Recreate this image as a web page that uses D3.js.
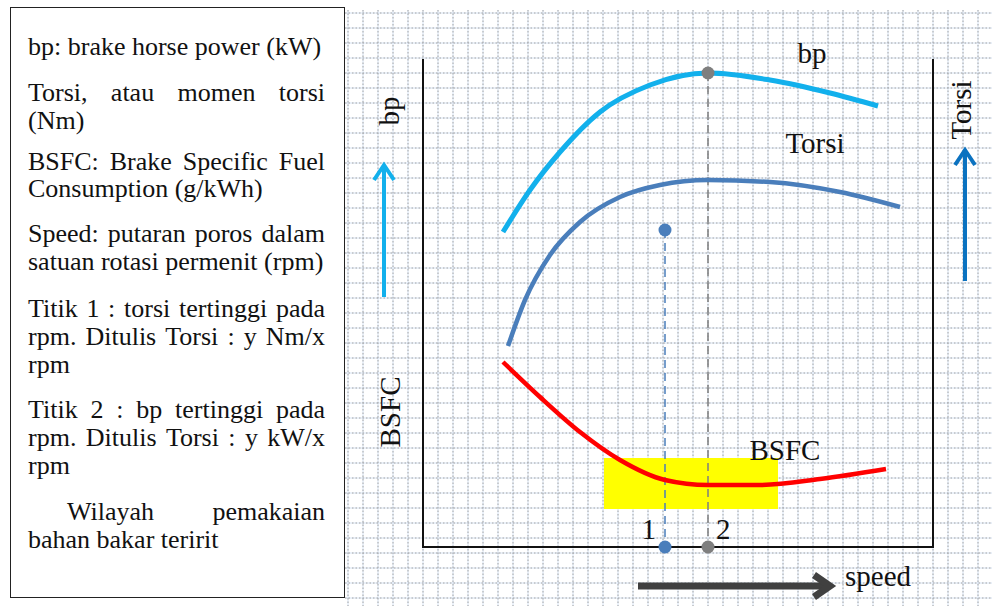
<!DOCTYPE html>
<html>
<head>
<meta charset="utf-8">
<script src="https://cdn.jsdelivr.net/npm/d3@7"></script>
<style>
  html, body { margin: 0; padding: 0; background: #fff; }
  svg { display: block; }
  #chart text { font-family: "Liberation Serif", serif; }
</style>
</head>
<body>
<svg id="chart" width="992" height="606"></svg>
<script>
// ---------------- data (schematic, arbitrary units) ----------------
const bpSpeed     = [80, 107, 137, 177, 227, 285, 347, 407, 455];
const bpValue     = [315, 357, 395, 435, 462, 474, 467, 454, 441];

const torsiSpeed  = [85, 102, 127, 157, 197, 237, 285, 347, 417, 477];
const torsiValue  = [201, 247, 292, 325, 350, 362, 367, 365, 355, 340];

const bsfcSpeed   = [80, 117, 157, 197, 242, 285, 337, 397, 463];
const bsfcValue   = [185, 150, 115, 87, 67, 62, 62, 68, 78];

const point1 = { speed: 242, top: 317, label: "1" };   // torsi tertinggi
const point2 = { speed: 285, top: 474, label: "2" };   // bp tertinggi

const economyZone = { speedFrom: 181, speedTo: 355, valueFrom: 38, valueTo: 89 };

const curveLabels = [
  { text: "bp",    speed: 389, value: 484 },
  { text: "Torsi", speed: 392, value: 394 },
  { text: "BSFC",  speed: 362, value: 87 }
];

const legendParagraphs = [
  { lines: ["bp: brake horse power (kW)"] },
  { lines: ["Torsi, atau momen torsi", "(Nm)"] },
  { lines: ["BSFC: Brake Specific Fuel", "Consumption (g/kWh)"] },
  { lines: ["Speed: putaran poros dalam", "satuan rotasi permenit (rpm)"] },
  { lines: ["Titik 1 : torsi tertinggi pada", "rpm. Ditulis Torsi : y Nm/x", "rpm"] },
  { lines: ["Titik 2 : bp tertinggi pada", "rpm. Ditulis Torsi : y kW/x", "rpm"] },
  { lines: ["Wilayah pemakaian", "bahan bakar teririt"], indent: 39 }
];

// ---------------- layout ----------------
const W = 992, H = 606;
const svg = d3.select("#chart");

const plot = { left: 423, right: 933, top: 59, bottom: 547 };
const x = d3.scaleLinear().domain([0, 510]).range([plot.left, plot.right]);
const y = d3.scaleLinear().domain([0, 488]).range([plot.bottom, plot.top]);

function T(sel) { return sel.append("text").attr("fill", "#111"); }

// ---------------- graph-paper background ----------------
const grid = svg.append("g");
const gx0 = 345, gy0 = 10, step = 15;
const vx = d3.range(348, W, step);
const hy = d3.range(13, H, step);
grid.selectAll("line.v").data(vx).join("line")
  .attr("x1", d => d).attr("x2", d => d).attr("y1", gy0).attr("y2", H)
  .attr("stroke", "#d6e2f2").attr("stroke-width", 1);
grid.selectAll("line.h").data(hy).join("line")
  .attr("x1", gx0).attr("x2", W).attr("y1", d => d).attr("y2", d => d)
  .attr("stroke", "#d6e2f2").attr("stroke-width", 1);
grid.selectAll("line.vd").data(vx).join("line")
  .attr("x1", d => d).attr("x2", d => d).attr("y1", gy0).attr("y2", H)
  .attr("stroke", "#a6a6a6").attr("stroke-width", 1).attr("stroke-dasharray", "1.5,2");
grid.selectAll("line.hd").data(hy).join("line")
  .attr("x1", gx0).attr("x2", W).attr("y1", d => d).attr("y2", d => d)
  .attr("stroke", "#a6a6a6").attr("stroke-width", 1).attr("stroke-dasharray", "1.5,2");

// ---------------- legend box ----------------
const box = { x: 10, y: 7, w: 334, h: 590 };
svg.append("rect").attr("x", box.x + 0.5).attr("y", box.y + 0.5)
  .attr("width", box.w).attr("height", box.h)
  .attr("fill", "#fff").attr("stroke", "#222").attr("stroke-width", 1);

const legendFont = 26;
const textLeft = 28, textRight = 325;
const baselines = [55, 101, 129, 170, 197, 242, 270, 317, 345, 373, 418, 446, 474, 520, 548];
const legend = svg.append("g");

const measurer = T(legend).attr("font-size", legendFont).attr("opacity", 0);
function wordWidth(w) { measurer.text(w); return measurer.node().getComputedTextLength(); }

let li = 0;
legendParagraphs.forEach(p => {
  p.lines.forEach((line, i) => {
    const isLast = i === p.lines.length - 1;
    const startX = textLeft + (i === 0 && p.indent ? p.indent : 0);
    const by = baselines[li++];
    const t = T(legend).attr("y", by).attr("font-size", legendFont);
    if (isLast) {
      t.attr("x", startX).text(line);
    } else {
      const words = line.split(" ");
      const widths = words.map(wordWidth);
      const total = d3.sum(widths);
      const gap = (textRight - startX - total) / (words.length - 1);
      let cx = startX;
      words.forEach((w, j) => {
        t.append("tspan").attr("x", cx).text(w);
        cx += widths[j] + gap;
      });
    }
  });
});
measurer.remove();

// ---------------- economy zone ----------------
svg.append("rect")
  .attr("x", x(economyZone.speedFrom)).attr("y", y(economyZone.valueTo))
  .attr("width", x(economyZone.speedTo) - x(economyZone.speedFrom))
  .attr("height", y(economyZone.valueFrom) - y(economyZone.valueTo))
  .attr("fill", "#ffff00");

// ---------------- axes frame ----------------
const frame = svg.append("g").attr("stroke", "#111").attr("stroke-width", 2).attr("fill", "none");
frame.append("path").attr("d",
  `M${plot.left},${plot.top}V${plot.bottom}H${plot.right}V${plot.top}`);

// ---------------- guide lines ----------------
svg.append("line")
  .attr("x1", x(point1.speed)).attr("x2", x(point1.speed))
  .attr("y1", y(point1.top)).attr("y2", plot.bottom)
  .attr("stroke", "#4a7ebb").attr("stroke-width", 1.5).attr("stroke-dasharray", "8,5");
svg.append("line")
  .attr("x1", x(point2.speed)).attr("x2", x(point2.speed))
  .attr("y1", y(point2.top)).attr("y2", plot.bottom)
  .attr("stroke", "#7f7f7f").attr("stroke-width", 1.5).attr("stroke-dasharray", "8,5");

// ---------------- curves ----------------
const line = d3.line().x(d => x(d[0])).y(d => y(d[1])).curve(d3.curveMonotoneX);
function drawCurve(sp, val, color, width) {
  svg.append("path").datum(d3.zip(sp, val))
    .attr("d", line).attr("fill", "none")
    .attr("stroke", color).attr("stroke-width", width);
}
drawCurve(bpSpeed, bpValue, "#12b0ec", 5);
drawCurve(torsiSpeed, torsiValue, "#4a7ebb", 4.5);
drawCurve(bsfcSpeed, bsfcValue, "#ff0000", 4.5);

// ---------------- points ----------------
const dots = [
  { s: point1.speed, v: point1.top, c: "#4a7ebb" },
  { s: point1.speed, v: 0, c: "#4a7ebb" },
  { s: point2.speed, v: point2.top, c: "#7f7f7f" },
  { s: point2.speed, v: 0, c: "#7f7f7f" }
];
svg.selectAll("circle.pt").data(dots).join("circle")
  .attr("cx", d => x(d.s)).attr("cy", d => y(d.v)).attr("r", 6.5)
  .attr("fill", d => d.c);

// ---------------- labels ----------------
const labelFont = 29;
curveLabels.forEach(d => {
  T(svg).attr("x", x(d.speed)).attr("y", y(d.value))
    .attr("text-anchor", "middle").attr("font-size", labelFont).text(d.text);
});

T(svg).attr("x", x(point1.speed) - 9).attr("y", 539)
  .attr("text-anchor", "end").attr("font-size", labelFont).text(point1.label);
T(svg).attr("x", x(point2.speed) + 8).attr("y", 539)
  .attr("text-anchor", "start").attr("font-size", labelFont).text(point2.label);

T(svg).attr("transform", "translate(399,111) rotate(-90)")
  .attr("text-anchor", "middle").attr("font-size", labelFont).text("bp");
T(svg).attr("transform", "translate(400,412) rotate(-90)")
  .attr("text-anchor", "middle").attr("font-size", labelFont).text("BSFC");
T(svg).attr("transform", "translate(971,110) rotate(-90)")
  .attr("text-anchor", "middle").attr("font-size", labelFont).text("Torsi");
T(svg).attr("x", 845).attr("y", 586)
  .attr("font-size", labelFont).text("speed");

// ---------------- arrows ----------------
function arrow(x1, y1, x2, y2, head, color, width) {
  const g = svg.append("g").attr("stroke", color).attr("stroke-width", width)
    .attr("fill", "none").attr("stroke-linecap", "butt");
  g.append("line").attr("x1", x1).attr("y1", y1).attr("x2", x2).attr("y2", y2);
  g.append("path").attr("d", d3.line()(head)).attr("stroke-linejoin", "miter");
}
arrow(384, 297, 384, 166, [[374, 180], [384, 165], [394, 180]], "#12b0ec", 4);
arrow(965, 281, 965, 151, [[955, 165], [965, 150], [975, 165]], "#0b72c0", 4);
arrow(638, 586, 830, 586, [[814, 575], [830, 586], [814, 597]], "#404040", 7);
</script>
</body>
</html>
